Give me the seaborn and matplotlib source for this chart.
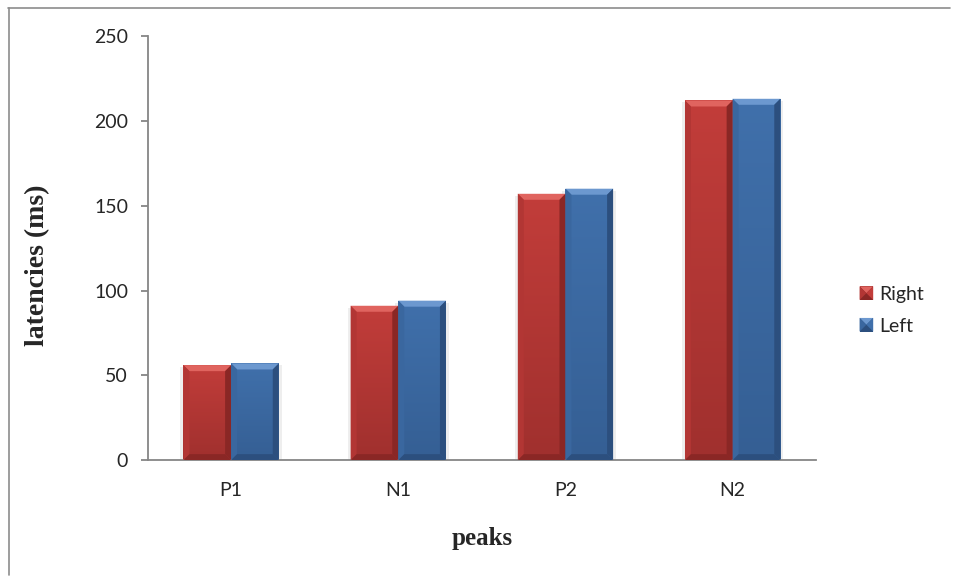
import numpy as np
import pandas as pd
import matplotlib
matplotlib.use("Agg")
import matplotlib.pyplot as plt
import seaborn as sns
from matplotlib.patches import Polygon, Rectangle
from matplotlib.transforms import IdentityTransform
from matplotlib.legend_handler import HandlerBase
from matplotlib.lines import Line2D
from matplotlib.colors import LinearSegmentedColormap

# Peak latencies (ms) per ear
peaks = ["P1", "N1", "P2", "N2"]
right_ms = [56, 91, 157, 212]
left_ms = [57, 94, 160, 213]
series = ["Right", "Left"]
yticks = [0, 50, 100, 150, 200, 250]

df = pd.DataFrame({
    "peaks": peaks * 2,
    "latency": right_ms + left_ms,
    "side": [series[0]] * len(peaks) + [series[1]] * len(peaks),
})

base = {"Right": "#C23D3A", "Left": "#4070AB"}
light = {"Right": "#E0645F", "Left": "#6C98CF"}
dark = {"Right": "#8A2725", "Left": "#2C4F7E"}
side = {"Right": "#B23634", "Left": "#3A679F"}
low = {"Right": "#A0302E", "Left": "#355F94"}

sns.set_theme(style="white")
tick_font = ["Lato", "DejaVu Sans"]
label_font = ["Liberation Serif", "DejaVu Serif"]

fig = plt.figure(figsize=(9.58, 5.81), dpi=100)
ax = fig.add_axes([0.154, 0.208, 0.698, 0.730])
sns.barplot(data=df, x="peaks", y="latency", hue="side", order=peaks,
            hue_order=series, palette=base, width=0.57, saturation=1,
            linewidth=0, legend=False, ax=ax)

ax.set_xlim(-0.5, len(peaks) - 0.5)
ax.set_ylim(0, 250)
ax.set_yticks(yticks)
ax.set_yticklabels([str(v) for v in yticks], fontsize=14, family=tick_font)
ax.set_xticks(range(len(peaks)))
ax.set_xticklabels(peaks, fontsize=14, family=tick_font)
ax.tick_params(axis="y", length=5, width=1.3, color="#868686", pad=9, left=True)
ax.tick_params(axis="x", length=0, pad=16)
ax.set_xlabel("peaks", fontsize=18, fontweight="bold", family=label_font, labelpad=20)
ax.set_ylabel("latencies (ms)", fontsize=20, fontweight="bold", family=label_font)
ax.yaxis.set_label_coords(-0.145, 0.46)
for s in ["top", "right"]:
    ax.spines[s].set_visible(False)
for s in ["left", "bottom"]:
    ax.spines[s].set_color("#868686")
    ax.spines[s].set_linewidth(1.3)
ax.grid(False)

# Bevelled bars: shading faces built from each bar's drawn extent
fig.canvas.draw()
ident = IdentityTransform()
b = 6
bars = list(ax.patches)
info = []
for bar in bars:
    fc = matplotlib.colors.to_hex(bar.get_facecolor())
    key = "Right" if fc.lower() == base["Right"].lower() else "Left"
    info.append((bar, key, bar.get_window_extent()))

for bar, key, bb in info:
    x0, y0, x1, y1 = bb.x0, bb.y0, bb.x1, bb.y1
    # soft shadow beside the bar
    sh = Rectangle((x0 - 3, y0), (x1 - x0) + 6, (y1 - y0) - 2, transform=ident,
                   facecolor="#EEEEEE", edgecolor="none", zorder=0.5)
    ax.add_artist(sh)
    # vertical gradient on the front face
    cmap = LinearSegmentedColormap.from_list("g", [low[key], base[key]])
    grad = np.linspace(0, 1, 100).reshape(-1, 1)
    bx, by = bar.get_x(), bar.get_y()
    bw, bh = bar.get_width(), bar.get_height()
    im = ax.imshow(grad, cmap=cmap, aspect="auto", origin="lower",
                   extent=(bx, bx + bw, by, by + bh), zorder=2)
    im.set_clip_path(bar)
    faces = [
        ([(x0, y1), (x1, y1), (x1 - b, y1 - b), (x0 + b, y1 - b)], light[key]),
        ([(x0, y0), (x0, y1), (x0 + b, y1 - b), (x0 + b, y0 + b)], side[key]),
        ([(x1, y0), (x1, y1), (x1 - b, y1 - b), (x1 - b, y0 + b)], dark[key]),
        ([(x0, y0), (x1, y0), (x1 - b, y0 + b), (x0 + b, y0 + b)], dark[key]),
    ]
    for pts, col in faces:
        ax.add_artist(Polygon(pts, closed=True, transform=ident,
                              facecolor=col, edgecolor="none", zorder=3))

ax.set_xlim(-0.5, len(peaks) - 0.5)
ax.set_ylim(0, 250)


class BevelHandler(HandlerBase):
    def __init__(self, key):
        super().__init__()
        self.key = key

    def create_artists(self, legend, orig_handle, xdescent, ydescent,
                       width, height, fontsize, trans):
        s = min(width, height)
        x0 = -xdescent + (width - s) / 2
        y0 = -ydescent + (height - s) / 2
        x1, y1 = x0 + s, y0 + s
        cx, cy = (x0 + x1) / 2, (y0 + y1) / 2
        k = self.key
        return [Rectangle((x0, y0), s, s, facecolor=dark[k], edgecolor="none", transform=trans),
                Polygon([(x0, y1), (x1, y1), (cx, cy)], facecolor=light[k], edgecolor="none", transform=trans),
                Polygon([(x0, y0), (x0, y1), (cx, cy)], facecolor=side[k], edgecolor="none", transform=trans),
                Polygon([(x1, y0), (x1, y1), (cx, cy)], facecolor=base[k], edgecolor="none", transform=trans)]


handles = [Rectangle((0, 0), 1, 1, label=s) for s in series]
leg = fig.legend(handles=handles, labels=series,
                 handler_map={h: BevelHandler(s) for h, s in zip(handles, series)},
                 loc="center left", bbox_to_anchor=(0.879, 0.466),
                 frameon=False, handlelength=0.7, handleheight=0.7,
                 handletextpad=0.3, labelspacing=0.75,
                 prop={"family": tick_font, "size": 14})

# outer chart border
fig.add_artist(Line2D([8 / 958, 950 / 958], [1 - 8 / 581, 1 - 8 / 581],
                      transform=fig.transFigure, color="#8C8C8C", lw=1.2))
fig.add_artist(Line2D([9 / 958, 9 / 958], [1 - 8 / 581, 1 - 575 / 581],
                      transform=fig.transFigure, color="#8C8C8C", lw=1.2))

fig.savefig("out.png", dpi=100)
